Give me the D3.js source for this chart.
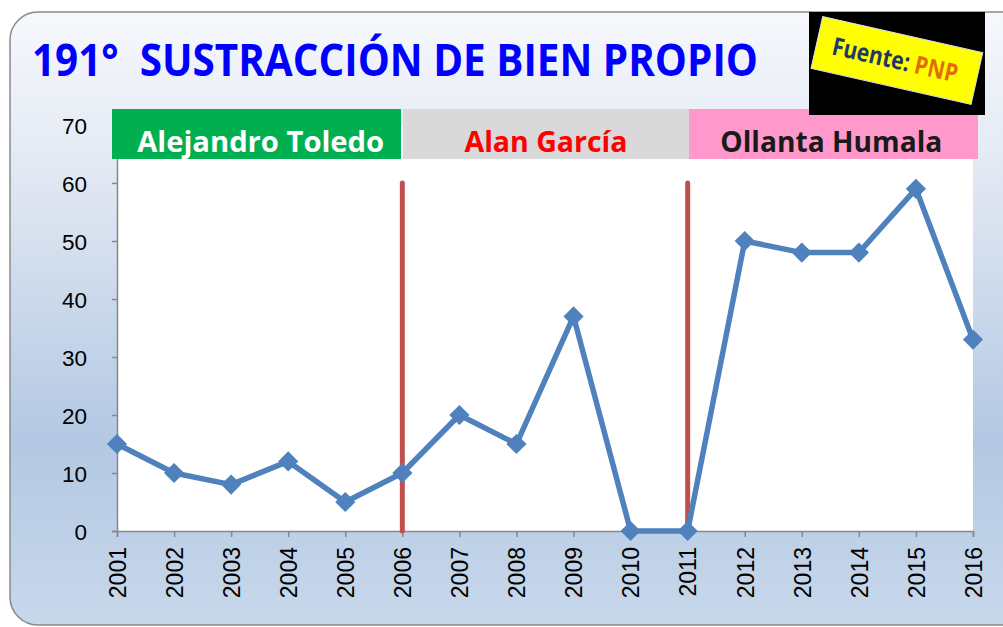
<!DOCTYPE html>
<html><head><meta charset="utf-8">
<script src="https://cdn.jsdelivr.net/npm/d3@7"></script>
<style>html,body{margin:0;padding:0;background:#fff;overflow:hidden}</style>
</head><body>
<svg id="c" width="1003" height="627"></svg>
<script>
const years = ["2001","2002","2003","2004","2005","2006","2007","2008","2009","2010","2011","2012","2013","2014","2015","2016"];
const values = [15,10,8,12,5,10,20,15,37,0,0,50,48,48,59,33];
const yTicks = [0,10,20,30,40,50,60,70];
const periods = [
  {name:"Alejandro Toledo", from:"2001", to:"2006", fill:"#00b050", color:"#ffffff"},
  {name:"Alan García", from:"2006", to:"2011", fill:"#d9d9d9", color:"#ff0000"},
  {name:"Ollanta Humala", from:"2011", to:"2016", fill:"#ff99cc", color:"#1a1a1a"}
];
const dividers = ["2006","2011"];
const dividerTop = 60;
const title = "191°  SUSTRACCIÓN DE BIEN PROPIO";

const svg = d3.select("#c");
const defs = svg.append("defs");
const g1 = defs.append("linearGradient").attr("id","bg").attr("x1",0).attr("y1",0).attr("x2",0).attr("y2",1);
g1.append("stop").attr("offset","0%").attr("stop-color","#f6f8fc");
g1.append("stop").attr("offset","25%").attr("stop-color","#e3e9f3");
g1.append("stop").attr("offset","70%").attr("stop-color","#b3c8e3");
g1.append("stop").attr("offset","100%").attr("stop-color","#c8d8eb");

svg.append("rect").attr("x",10).attr("y",12).attr("width",1030).attr("height",613)
  .attr("rx",28).attr("fill","url(#bg)").attr("stroke","#8a8a8a").attr("stroke-width",1.5);

const x = d3.scalePoint().domain(years).range([117,973]);
const y = d3.scaleLinear().domain([0,70]).range([531,125]);

// plot area
svg.append("rect").attr("x",117).attr("y",y(70)).attr("width",973-117).attr("height",y(0)-y(70)).attr("fill","#fff");

// title
svg.append("text").attr("x",32).attr("y",76).text(title)
  .style("white-space","pre")
  .attr("font-family","'Open Sans', 'Noto Sans', sans-serif").attr("font-weight","bold")
  .attr("font-size",44).attr("fill","#0000ff")
  .attr("textLength",726).attr("lengthAdjust","spacingAndGlyphs");

// axes
const yAxis = d3.axisLeft(y).tickValues(yTicks).tickSize(5).tickPadding(25);
const ya = svg.append("g").attr("transform","translate(117,0)").call(yAxis);
ya.select(".domain").attr("stroke","#888").attr("stroke-width",1.5);
ya.selectAll(".tick line").attr("stroke","#888").attr("stroke-width",1.5);
ya.selectAll(".tick text").attr("font-family","'Liberation Sans', Arial, sans-serif").style("font-size","22.5px").attr("fill","#000").attr("dy","0.36em");

const xAxis = d3.axisBottom(x).tickSize(6).tickPadding(8);
const xa = svg.append("g").attr("transform","translate(0,531)").call(xAxis);
xa.select(".domain").attr("stroke","#888").attr("stroke-width",1.5);
xa.selectAll(".tick line").attr("stroke","#888").attr("stroke-width",1.5);
xa.selectAll(".tick text").attr("font-family","'Liberation Sans', Arial, sans-serif").style("font-size","23px").attr("fill","#000")
  .attr("transform","rotate(-90)").attr("text-anchor","end").attr("x",-16).attr("y",0).attr("dy","0.36em");

// period banners
const bannerBounds = [[112,401],[403,689],[689,978]];
const bannerTextLen = [247,163,222];
periods.forEach((p,i)=>{
  const [a,b] = bannerBounds[i];
  svg.append("rect").attr("x",a).attr("y",109).attr("width",b-a).attr("height",50).attr("fill",p.fill);
  svg.append("text").attr("x",(x(p.from)+x(p.to))/2+1).attr("y",152).text(p.name)
    .attr("text-anchor","middle").attr("font-family","'Open Sans', 'Noto Sans', sans-serif").attr("font-weight","bold")
    .attr("font-size",28).attr("fill",p.color)
    .attr("textLength",bannerTextLen[i]).attr("lengthAdjust","spacingAndGlyphs");
});

// dividers
svg.selectAll(".div").data(dividers).join("line")
  .attr("x1",d=>x(d)).attr("x2",d=>x(d)).attr("y1",y(dividerTop)).attr("y2",y(0))
  .attr("stroke","#c0504d").attr("stroke-width",5).attr("stroke-linecap","round");

// line
const data = years.map((yr,i)=>({yr, v:values[i]}));
svg.append("path").datum(data).attr("fill","none").attr("stroke","#4f81bd").attr("stroke-width",5.5)
  .attr("stroke-linejoin","round")
  .attr("d",d3.line().x(d=>x(d.yr)).y(d=>y(d.v)));
svg.selectAll(".m").data(data).join("path")
  .attr("transform",d=>`translate(${x(d.yr)},${y(d.v)})`)
  .attr("d",d3.symbol().type(d3.symbolDiamond2).size(260))
  .attr("fill","#4f81bd");

// Fuente box
const fb = svg.append("g");
fb.append("rect").attr("x",809).attr("y",12).attr("width",176).attr("height",103).attr("fill","#000");
const yl = fb.append("g").attr("transform","translate(897,60) rotate(12.7)");
yl.append("rect").attr("x",-82).attr("y",-26).attr("width",164).attr("height",53).attr("fill","#ffff00").attr("stroke","#dde","stroke-width",1.5);
const ft = yl.append("text").attr("x",-2).attr("y",9).attr("text-anchor","middle")
  .attr("font-family","'Open Sans', 'Noto Sans', sans-serif").attr("font-weight","bold").attr("font-size",25)
  .attr("textLength",128).attr("lengthAdjust","spacingAndGlyphs");
ft.append("tspan").text("Fuente: ").attr("fill","#1f3864");
ft.append("tspan").text("PNP").attr("fill","#e36c09");
</script>
</body></html>
